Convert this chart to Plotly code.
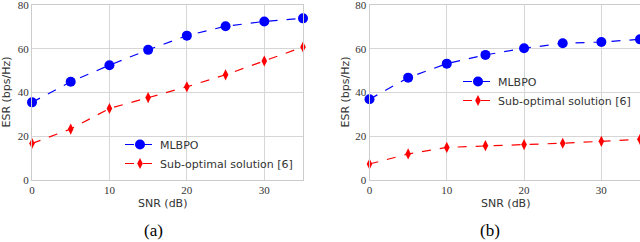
import plotly.graph_objects as go

snr = [0, 5, 10, 15, 20, 25, 30, 35]
mlbpo_a = [35.5, 44.9, 52.5, 59.5, 66.0, 70.3, 72.5, 73.9]
subopt_a = [16.7, 23.3, 32.7, 37.7, 42.6, 48.1, 54.4, 60.8]
mlbpo_b = [36.9, 46.8, 53.2, 57.2, 60.2, 62.5, 63.1, 64.3]
subopt_b = [7.3, 11.9, 14.9, 15.7, 16.2, 16.8, 17.7, 18.6]
y_ticks = [0, 20, 40, 60, 80]
x_ticks = [0, 10, 20, 30]
names = ["MLBPO", "Sub-optimal solution [6]"]
captions = ["(a)", "(b)"]

BLUE = "#0000ff"
RED = "#ff0000"

fig = go.Figure()

def add_pair(mlbpo, sub, xa, ya, leg):
    fig.add_trace(go.Scatter(x=snr, y=mlbpo, mode="lines+markers", name=names[0],
                             xaxis=xa, yaxis=ya, legend=leg, cliponaxis=False,
                             line=dict(color=BLUE, width=1.2, dash="dash"),
                             marker=dict(symbol="circle", size=10, color=BLUE)))
    fig.add_trace(go.Scatter(x=snr, y=sub, mode="lines+markers", name=names[1],
                             xaxis=xa, yaxis=ya, legend=leg, cliponaxis=False,
                             line=dict(color=RED, width=1.2, dash="dash"),
                             marker=dict(symbol="diamond-tall", size=8, color=RED)))

add_pair(mlbpo_a, subopt_a, "x", "y", "legend")
add_pair(mlbpo_b, subopt_b, "x2", "y2", "legend2")

W, H = 640, 242
top = 1 - 5 / H
bot = 1 - 180 / H

axis_common = dict(showgrid=True, gridcolor="#d6d6d6", gridwidth=1.2,
                   showline=True, linecolor="#cccccc", linewidth=1, mirror=True,
                   zeroline=False, ticks="", automargin=False, ticklabeloverflow="allow",
                   tickfont=dict(family="Liberation Serif", size=11, color="#333333"))

fig.update_layout(
    width=W, height=H, margin=dict(l=0, r=0, t=0, b=0, autoexpand=False),
    paper_bgcolor="white", plot_bgcolor="white",
    xaxis=dict(domain=[32 / W, 303 / W], range=[0, 35], tickvals=x_ticks, anchor="y", **axis_common),
    yaxis=dict(domain=[bot, top], range=[0, 80.01], tickvals=y_ticks, anchor="x", **axis_common),
    xaxis2=dict(domain=[369.5 / W, 640 / W], range=[0, 35], tickvals=x_ticks, anchor="y2", **axis_common),
    yaxis2=dict(domain=[bot, top], range=[0, 80.01], tickvals=y_ticks, anchor="x2", **axis_common),
    legend=dict(x=120 / W, y=1 - 130 / H, xanchor="left", yanchor="top",
                bgcolor="rgba(0,0,0,0)", tracegroupgap=2,
                font=dict(family="DejaVu Sans", size=11, color="#333333")),
    legend2=dict(x=458 / W, y=1 - 67 / H, xanchor="left", yanchor="top",
                 bgcolor="rgba(0,0,0,0)", tracegroupgap=2,
                 font=dict(family="DejaVu Sans", size=11, color="#333333")),
    showlegend=True,
)

ann = []
for cx in [162, 505]:
    ann.append(dict(x=cx / W, y=1 - 203 / H, xref="paper", yref="paper", text="SNR (dB)",
                    xanchor="center", yanchor="middle",
                    showarrow=False, font=dict(family="DejaVu Sans", size=11, color="#333333")))
for cx in [6, 345]:
    ann.append(dict(x=cx / W, y=(top + bot) / 2, xref="paper", yref="paper", text="ESR (bps/Hz)",
                    xanchor="center", yanchor="middle",
                    textangle=-90, showarrow=False,
                    font=dict(family="DejaVu Sans", size=11, color="#333333")))
for cx, cap in [(153, captions[0]), (490, captions[1])]:
    ann.append(dict(x=cx / W, y=1 - 230 / H, xref="paper", yref="paper", text=cap,
                    xanchor="center", yanchor="middle",
                    showarrow=False, font=dict(family="Liberation Serif", size=17, color="#000000")))
fig.update_layout(annotations=ann)

fig.write_html("out.html", config={"displayModeBar": False},
               post_script="document.body.style.margin='0';document.body.style.padding='0';")
